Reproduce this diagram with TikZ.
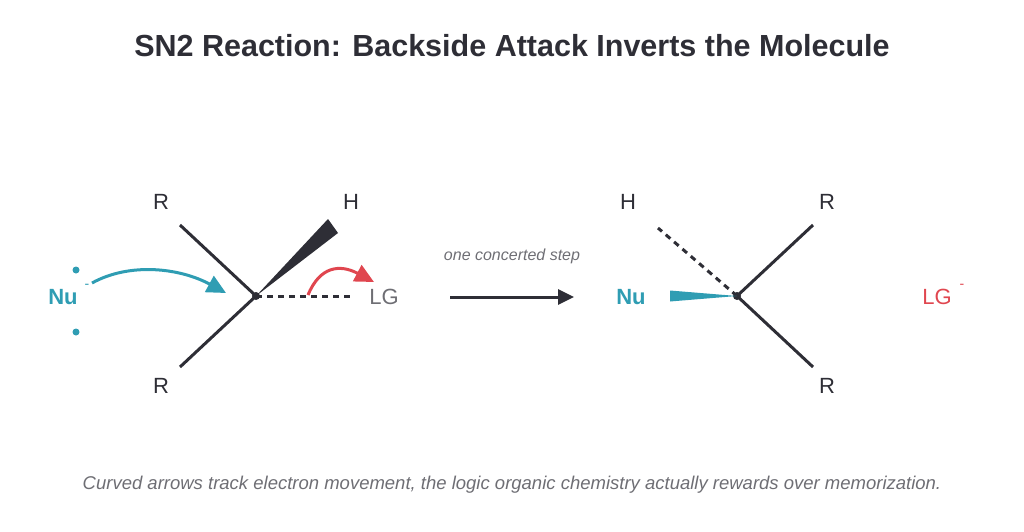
\documentclass[tikz,border=0pt]{standalone}
\usepackage{fontspec}
\setmainfont{Liberation Sans}
\usetikzlibrary{arrows.meta}
\usetikzlibrary{calc}
\definecolor{ink}{HTML}{2E2E36}
\definecolor{nucol}{HTML}{2F9DB3}
\definecolor{lgcol}{HTML}{E0464F}
\definecolor{note}{HTML}{6E6E74}
\begin{document}
\begin{tikzpicture}[x=1pt, y=-1pt]
    \tikzset{
        % 原子标签
        atom/.style={text=ink, font=\fontsize{22}{26}\selectfont, inner sep=0pt},
        nu/.style={text=nucol, font=\fontsize{22}{26}\selectfont\bfseries, inner sep=0pt},
        lg/.style={text=lgcol, font=\fontsize{22}{26}\selectfont, inner sep=0pt},
        charge/.style={font=\fontsize{14}{16}\selectfont, inner sep=0pt},
        % 键
        bond/.style={line width=3pt, ink},
        hashed/.style={line width=3pt, ink, dash pattern=on 6pt off 5pt},
        push/.style={line width=3pt, -{Triangle[length=19pt, width=18pt]}}
    }
    \useasboundingbox (0,0) rectangle (1024,532);

    % ================= 标题 =================
    \node[text=ink, font=\fontsize{30.5}{34}\selectfont\bfseries] (title) at (512,46) {SN2 Reaction: Backside Attack Inverts the Molecule};

    % ================= 左侧:反应物 =================
    \coordinate (c1) at (256,296);
    \coordinate (r1a) at (180,225);
    \coordinate (r1b) at (180,367);
    \coordinate (h1) at (333,226);
    \coordinate (lg1b) at (352,296);
    \fill[ink] (c1) circle (4pt);
    \draw[bond] (r1a) -- (c1) -- (r1b);
    \fill[ink] (c1) -- ($(h1)+(-5,-7)$) -- ($(h1)+(5,7)$) -- cycle;
    \draw[hashed] (c1) -- (lg1b);

    \node[atom] (rt1) at (161,202) {R};
    \node[atom] (rb1) at (161,386) {R};
    \node[atom] (ht1) at (351,202) {H};
    \node[atom, text=note] (lg1) at (384,297) {LG};
    \node[nu] (nu1) at (63,297) {Nu};
    \node[charge, text=nucol] at (87,286) {-};
    \fill[nucol] (76,270) circle (3.5pt) (76,332) circle (3.5pt);

    % 弯箭头
    \coordinate (nustart) at (92,283);
    \coordinate (nuend) at (226,293);
    \draw[push, nucol] (nustart) .. controls (130,262) and (180,268) .. (nuend);
    \coordinate (lgstart) at (308,295);
    \coordinate (lgend) at (374,282);
    \draw[push, lgcol] (lgstart) .. controls (320,266) and (340,264) .. (lgend);

    % ================= 反应箭头 =================
    \coordinate (ra) at (450,297);
    \coordinate (rb) at (574,297);
    \draw[line width=3pt, ink, -{Triangle[length=16pt, width=15pt]}] (ra) -- (rb);
    \node[text=note, font=\fontsize{16}{18}\selectfont\itshape] (step) at (512,256) {one concerted step};

    % ================= 右侧:产物 =================
    \coordinate (c2) at (737,296);
    \coordinate (r2a) at (813,225);
    \coordinate (r2b) at (813,367);
    \coordinate (h2) at (658,228);
    \coordinate (nu2b) at (670,296);
    \fill[ink] (c2) circle (4pt);
    \draw[bond] (r2a) -- (c2) -- (r2b);
    \draw[hashed] (c2) -- (h2);
    \fill[nucol] (c2) -- ($(nu2b)+(0,-5.5)$) -- ($(nu2b)+(0,5.5)$) -- cycle;

    \node[atom] (ht2) at (628,202) {H};
    \node[atom] (rt2) at (827,202) {R};
    \node[atom] (rb2) at (827,386) {R};
    \node[nu] (nu2) at (631,297) {Nu};
    \node[lg] (lg2) at (937,297) {LG};
    \node[charge, text=lgcol] at (962,286) {-};

    % ================= 说明 =================
    \node[text=note, font=\fontsize{18.5}{22}\selectfont\itshape] (caption) at (512,485) {Curved arrows track electron movement, the logic organic chemistry actually rewards over memorization.};
\end{tikzpicture}
\end{document}
